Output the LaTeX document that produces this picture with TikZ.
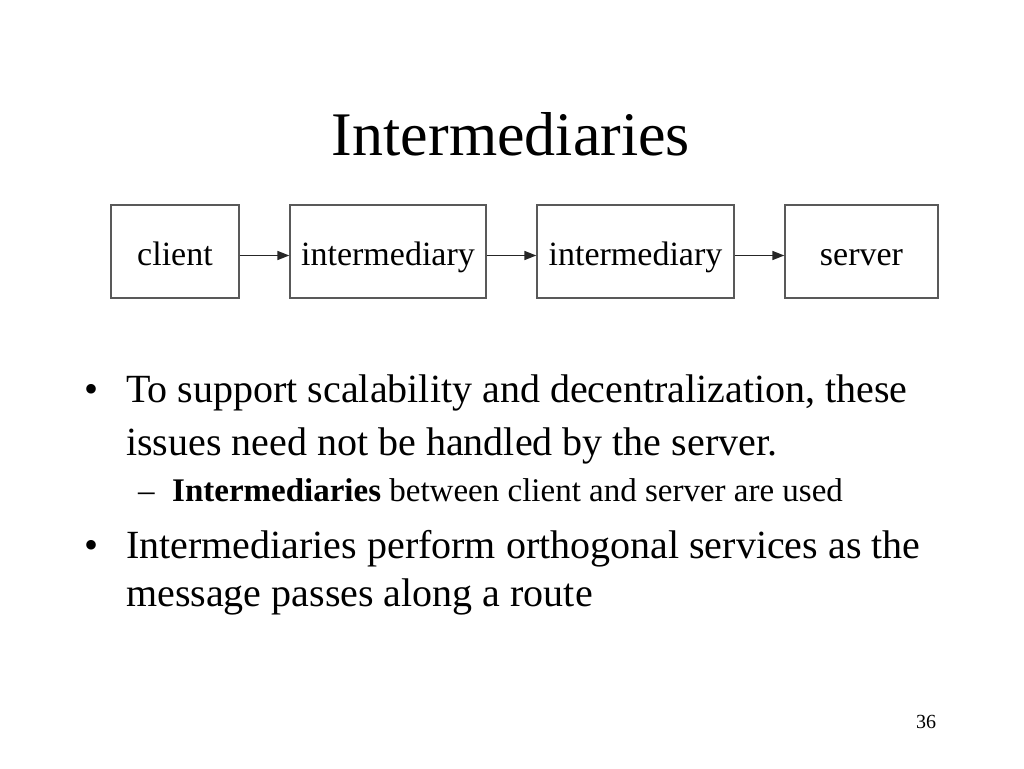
\documentclass[tikz,border=0pt]{standalone}
\usepackage{fontspec}
\setmainfont{Liberation Serif}
\usetikzlibrary{arrows.meta}
\begin{document}
\begin{tikzpicture}[x=1pt,y=-1pt,
  box/.style={draw=black!65,line width=1.3pt,minimum height=93pt,inner sep=0pt,
    text height=27pt,text depth=0pt,font=\fontsize{34}{40}\selectfont},
  conn/.style={line width=1.5pt,black!85,-{Triangle[length=12pt,width=9pt]}},
  txt/.style={anchor=base west,inner sep=0pt},
  big/.style={font=\fontsize{40}{48}\selectfont},
  small/.style={font=\fontsize{33}{40}\selectfont}]
\useasboundingbox (0,0) rectangle (1024,768);
\node[anchor=base,inner sep=0pt,font=\fontsize{62}{70}\selectfont] (title) at (511,155) {Intermediaries};
\node[box,minimum width=128pt] (client) at (175,251.5) {client};
\node[box,minimum width=196pt] (im1) at (388,251.5) {intermediary};
\node[box,minimum width=197pt] (im2) at (635.5,251.5) {intermediary};
\node[box,minimum width=153pt] (server) at (861.5,251.5) {server};
\draw[conn] ([yshift=-4pt]client.east) -- ([yshift=-4pt]im1.west);
\draw[conn] ([yshift=-4pt]im1.east) -- ([yshift=-4pt]im2.west);
\draw[conn] ([yshift=-4pt]im2.east) -- ([yshift=-4pt]server.west);
\node[txt,big] (b1) at (84,402) {•};
\node[txt,big] (l1) at (126,402) {To support scalability and decentralization, these};
\node[txt,big] (l2) at (126,455) {issues need not be handled by the server.};
\node[txt,small] (d1) at (138,501) {–};
\node[txt,small] (s1) at (172,501) {\textbf{Intermediaries} between client and server are used};
\node[txt,big] (b2) at (84,558) {•};
\node[txt,big] (l3) at (126,558) {Intermediaries perform orthogonal services as the};
\node[txt,big] (l4) at (126,606) {message passes along a route};
\node[anchor=base,inner sep=0pt,font=\fontsize{20}{24}\selectfont] (pg) at (926,728) {36};
\end{tikzpicture}
\end{document}
